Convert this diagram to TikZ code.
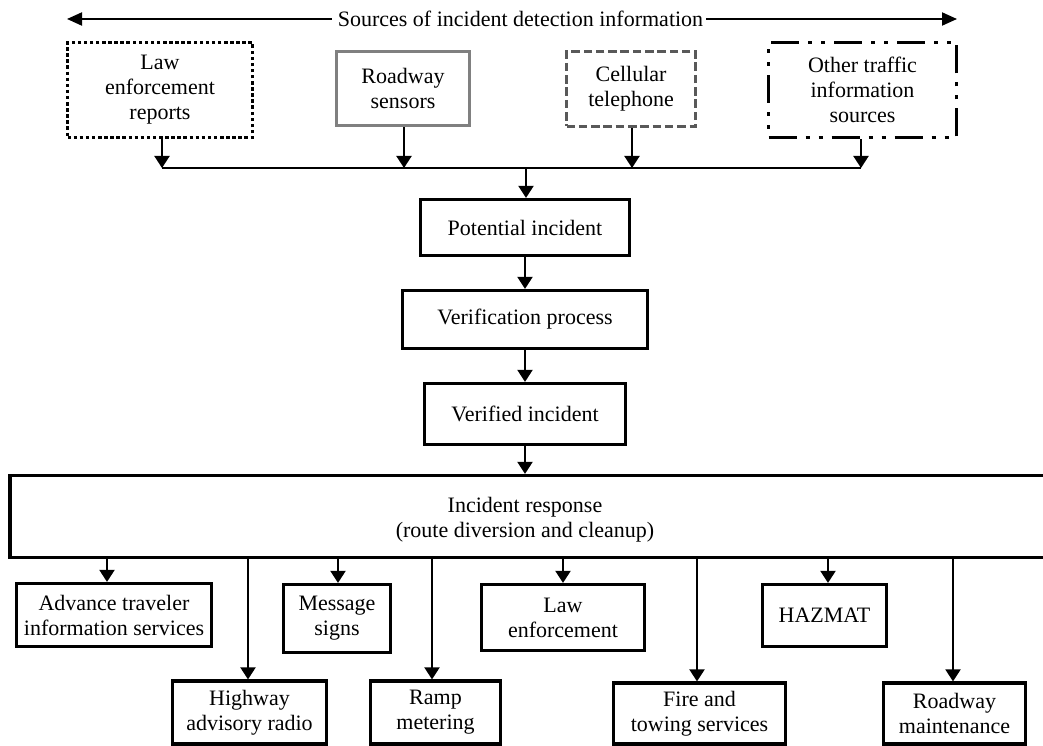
\documentclass[tikz,border=0pt]{standalone}
\usepackage{fontspec}
\setmainfont{Liberation Serif}
\usetikzlibrary{arrows.meta,calc}
\begin{document}
\begin{tikzpicture}[x=1pt,y=-1pt,
  every node/.style={font=\fontsize{22}{25}\selectfont, align=center, inner sep=0pt},
  box/.style={draw, line width=3.2pt, rectangle},
  lawbox/.style={box, dash pattern=on 3.5pt off 2.6pt},
  graybox/.style={box, draw=black!50},
  cellbox/.style={box, draw=black!65, dash pattern=on 8.5pt off 3.8pt},
  otherbox/.style={box, dash pattern=on 28pt off 9pt on 4pt off 9pt on 4pt off 9pt},
  arr/.style={line width=2pt, -{Triangle[length=12pt,width=15pt]}},
  conn/.style={line width=2pt}]
\useasboundingbox (0,0) rectangle (1043,746);

% header arrow
\node (title) at (520.5,19) {Sources of incident detection information};
\coordinate (srcL) at (67,19);
\coordinate (srcR) at (957,19);
\draw[line width=2pt, -{Triangle[length=15pt,width=13pt]}] ([xshift=-6pt]title.west) -- (srcL);
\draw[line width=2pt, -{Triangle[length=15pt,width=13pt]}] ([xshift=3pt]title.east) -- (srcR);

% information sources
\node[lawbox, minimum width=185, minimum height=95] (law) at (160,90) {Law\\enforcement\\reports};
\node[graybox, minimum width=133, minimum height=74] (road) at (403,88.5) {Roadway\\sensors};
\node[cellbox, minimum width=129, minimum height=75] (cell) at (631,89) {Cellular\\telephone};
\node[otherbox, minimum width=188, minimum height=95] (other) at (862.5,90) {Other traffic\\information\\sources};

% collecting bus
\coordinate (bus) at (526,168);
\draw[arr] ([xshift=2pt]law.south) -- ([xshift=2pt]law.south |- bus);
\draw[arr] ([xshift=1pt]road.south) -- ([xshift=1pt]road.south |- bus);
\draw[arr] ([xshift=1pt]cell.south) -- ([xshift=1pt]cell.south |- bus);
\draw[arr] ([xshift=-1.5pt]other.south) -- ([xshift=-1.5pt]other.south |- bus);
\draw[conn] ([xshift=2pt]law.south |- bus) -- ([xshift=-1.5pt]other.south |- bus);

% main chain
\node[box, minimum width=209, minimum height=56] (pot) at (525,227.5) {Potential incident};
\node[box, minimum width=245, minimum height=58] (ver) at (525,319.5) {Verification process};
\node[box, minimum width=201, minimum height=61] (vinc) at (525,414) {Verified incident};
\node[box, minimum width=1049, minimum height=82] (resp) at (534.5,516.5) {};
\node (resptext) at (525,520) {Incident response\\(route diversion and cleanup)};

\draw[arr] (bus) -- (bus |- pot.north);
\draw[arr] (pot.south) -- (ver.north);
\draw[arr] (ver.south) -- (vinc.north);
\draw[arr] (vinc.south) -- (vinc.south |- resp.north);

% response actions, first row
\node[box, minimum width=195, minimum height=63] (adv) at (114,615) {Advance traveler\\information services};
\node[box, minimum width=107, minimum height=68] (msg) at (337,618.5) {Message\\signs};
\node[box, minimum width=163, minimum height=66] (lawenf) at (563,617.5) {Law\\enforcement};
\node[box, minimum width=124, minimum height=62] (haz) at (824.5,615.5) {HAZMAT};

% response actions, second row
\node[box, minimum width=154, minimum height=63] (hwy) at (249.5,712.5) {Highway\\advisory radio};
\node[box, minimum width=130, minimum height=63] (ramp) at (435.5,712.5) {Ramp\\metering};
\node[box, minimum width=172, minimum height=61] (fire) at (699.5,713.5) {Fire and\\towing services};
\node[box, minimum width=142, minimum height=61] (rdm) at (954.5,713.5) {Roadway\\maintenance};

\foreach \n/\dx in {adv/-7, msg/1, lawenf/0, haz/3.5, hwy/-1.5, ramp/-3.5, fire/-2.5, rdm/-1.5}
  \draw[arr] ([xshift=\dx pt]\n.north |- resp.south) -- ([xshift=\dx pt]\n.north);
\end{tikzpicture}
\end{document}
